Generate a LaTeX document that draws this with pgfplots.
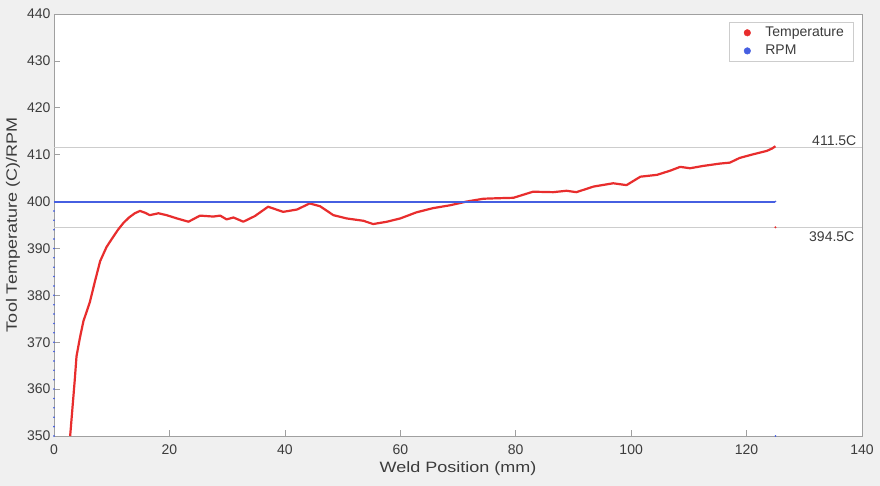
\documentclass[border=0pt]{standalone}
\usepackage{pgfplots}
\pgfplotsset{compat=1.18}
\usepackage{fontspec}
\setmainfont{Liberation Sans}
\newfontfamily\labelfont{Liberation Sans}[FakeStretch=1.2]
\definecolor{bg}{RGB}{240,240,240}
\definecolor{tred}{RGB}{232,45,45}
\definecolor{rpmblue}{RGB}{70,95,225}
\definecolor{axgray}{RGB}{160,160,160}
\definecolor{txtgray}{RGB}{60,60,60}
\definecolor{refgray}{RGB}{205,205,205}
\begin{document}
\begin{tikzpicture}[x=1pt,y=1pt]
\fill[bg] (-54,-50) rectangle (826,436);
\useasboundingbox (-54,-50) rectangle (826,436);
\begin{axis}[
  scale only axis,
  width=808pt, height=422pt,
  xmin=0, xmax=140, ymin=350, ymax=440,
  xtick={0,20,...,140}, ytick={350,360,...,440},
  axis background/.style={fill=white},
  axis line style={axgray},
  tick style={axgray, line width=0.6pt},
  major tick length=6pt,
  tick align=inside,
  xtick pos=left, ytick pos=left,
  /pgf/number format/assume math mode=true,
  ticklabel style={font=\fontsize{14}{16}\selectfont, text=txtgray},
  xticklabel style={yshift=-5pt},
  xlabel={Weld Position (mm)},
  ylabel={Tool Temperature (C)/RPM},
  label style={font=\labelfont\fontsize{15}{17}\selectfont, text=txtgray},
  xlabel style={at={(axis description cs:0.5,-0.078)}, anchor=center},
  ylabel style={at={(axis description cs:-0.0507,0.5)}, anchor=center},
  legend style={at={(axis description cs:0.989,0.981)}, anchor=north east,
    draw=refgray, fill=white, font=\fontsize{14}{16}\selectfont, text=txtgray,
    inner xsep=7pt, inner ysep=3pt, row sep=3pt},
  legend cell align=left,
  legend image code/.code={\path[draw=none,fill=none] (0,-3pt) rectangle (27pt,3pt); \fill[#1] (11pt,0) circle (3.3pt);},
  clip=false,
]
\addlegendimage{color=tred}
\addlegendentry{Temperature}
\addlegendimage{color=rpmblue}
\addlegendentry{RPM}

\addplot[draw=refgray, line width=1pt, forget plot] coordinates {(0,411.5) (140,411.5)};
\addplot[draw=refgray, line width=1pt, forget plot] coordinates {(0,394.5) (140,394.5)};

% Temperature
\addplot[draw=tred, line width=2.2pt, line join=round, forget plot] coordinates {
(2.8,350) (3.6,362) (3.9,367) (4.5,371) (5.1,374.5) (6.2,378.5) (7.1,383)
(8.0,387.3) (9.1,390.3) (10.0,392) (11.1,394) (12.0,395.4) (13.0,396.6)
(14.0,397.5) (14.9,398.0) (15.8,397.6) (16.6,397.1) (18.1,397.5) (19.5,397.1)
(21.3,396.4) (23.3,395.7) (25.3,397.0) (27.6,396.8) (28.8,397.0) (29.9,396.2)
(31.1,396.6) (32.8,395.7) (34.8,396.9) (37.1,398.9) (39.7,397.8) (42.1,398.3)
(44.3,399.6) (46.1,399.0) (48.4,397.1) (50.7,396.4) (53.6,395.9) (55.3,395.2)
(57.7,395.7) (60.0,396.4) (62.8,397.7) (65.7,398.6) (68.6,399.2) (71.5,400.0)
(74.4,400.6) (76.7,400.7) (79.6,400.8) (83.0,402.1) (86.5,402.0) (88.8,402.3)
(90.5,402.0) (93.5,403.2) (96.9,403.9) (99.2,403.5) (101.6,405.3) (104.5,405.7)
(106.8,406.6) (108.5,407.4) (110.2,407.1) (112.5,407.6) (115.4,408.1)
(117.1,408.3) (118.8,409.3) (121.2,410.1) (123.5,410.8) (124.4,411.3) (125.0,411.8)};
\addplot[only marks, mark=*, mark size=0.8pt, mark options={draw=tred, fill=tred}, forget plot] coordinates {(125,394.5)};

% RPM
\addplot[draw=rpmblue, line width=2pt, forget plot] coordinates {(0,400) (125,400)};
\addplot[only marks, mark=*, mark size=0.6pt, mark options={draw=rpmblue, fill=rpmblue}, forget plot] coordinates {
(0,350)(0,352)(0,354)(0,356)(0,358)(0,360)(0,362)(0,364)(0,366)(0,368)(0,370)
(0,372)(0,374)(0,376)(0,378)(0,380)(0,382)(0,384)(0,386)(0,388)(0,390)(0,392)
(0,394)(0,396)(0,398)(125,350)(125,400)};

\node[anchor=south east, font=\fontsize{14}{16}\selectfont, text=txtgray, inner sep=2pt]
  at (axis cs:139.4,411.5) {411.5C};
\node[anchor=north east, font=\fontsize{14}{16}\selectfont, text=txtgray, inner sep=4pt]
  at (axis cs:139.4,394.5) {394.5C};
\end{axis}
\end{tikzpicture}
\end{document}
